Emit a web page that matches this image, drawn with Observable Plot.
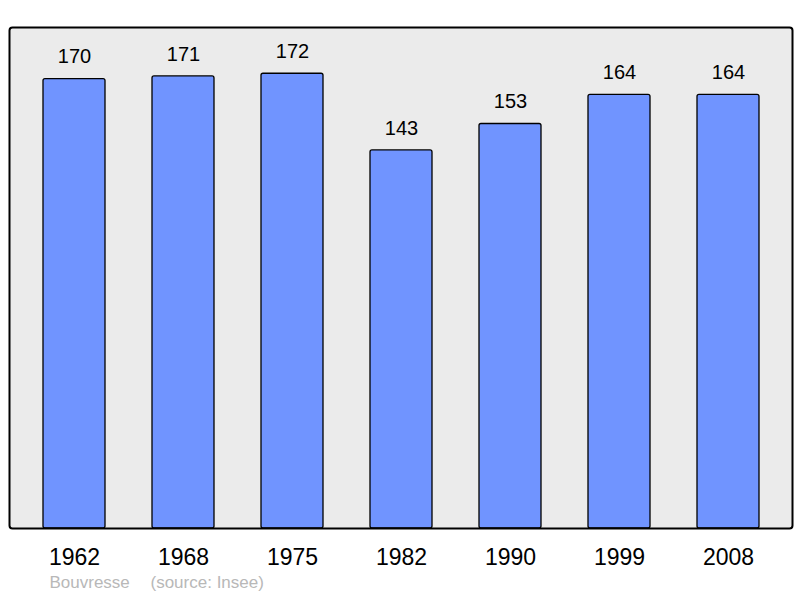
<!DOCTYPE html>
<html>
<head>
<meta charset="utf-8">
<script src="https://cdn.jsdelivr.net/npm/d3@7"></script>
<script src="https://cdn.jsdelivr.net/npm/@observablehq/plot@0.6"></script>
<style>
  html, body { margin: 0; padding: 0; background: #fff; }
  svg { display: block; font-family: "Liberation Sans", Arial, sans-serif; }
</style>
</head>
<body>
<div id="chart"></div>
<script>
const years = ["1962", "1968", "1975", "1982", "1990", "1999", "2008"];
const population = [170, 171, 172, 143, 153, 164, 164];
const footerName = "Bouvresse";
const footerSource = "(source: Insee)";

const data = years.map((y, i) => ({year: y, value: population[i]}));

const chart = Plot.plot({
  width: 800,
  height: 598,
  marginLeft: 9,
  marginRight: 8,
  marginTop: 27,
  marginBottom: 70,
  style: {fontFamily: "'Liberation Sans', Arial, sans-serif", background: "#fff"},
  x: {domain: years, range: [41.5, 760], paddingInner: 0.433, paddingOuter: 0, label: null},
  y: {domain: [0, 189.5], axis: null},
  marks: [
    Plot.frame({fill: "#ebebeb", stroke: "none"}),
    Plot.barY(data, {x: "year", y: "value", fill: "#7094ff", stroke: "#000", strokeWidth: 1.3, rx: 2}),
    Plot.text(data, {x: "year", y: "value", text: d => String(d.value), dy: -22, fontSize: 20, fill: "#000"}),
    Plot.frame({stroke: "#000", strokeWidth: 2, rx: 3}),
    Plot.axisX({tickSize: 0, tickPadding: 20, fontSize: 23, fill: "#000", label: null}),
    Plot.text([footerName], {frameAnchor: "bottom-left", text: d => d, dx: 40, dy: 59, fontSize: 17, fill: "#b8b8b8", textAnchor: "start"}),
    Plot.text([footerSource], {frameAnchor: "bottom-left", text: d => d, dx: 141, dy: 59, fontSize: 17, fill: "#b8b8b8", textAnchor: "start"})
  ]
});
document.getElementById("chart").appendChild(chart);
</script>
</body>
</html>
